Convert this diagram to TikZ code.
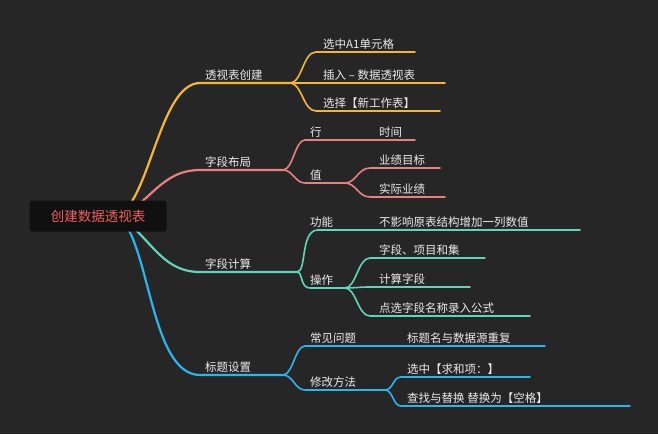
\documentclass[tikz,border=0pt]{standalone}
\usepackage{fontspec}
\newfontfamily\cjk{Noto Sans CJK SC}
\definecolor{bg}{HTML}{262626}
\definecolor{rootbg}{HTML}{101010}
\definecolor{cO}{HTML}{F5B731}
\definecolor{cP}{HTML}{E88080}
\definecolor{cT}{HTML}{5ED6B9}
\definecolor{cB}{HTML}{2BB5F0}
\definecolor{rootred}{HTML}{F06060}
\tikzset{lbl/.style={anchor=south west,inner sep=1pt,text=white!92!black,font=\cjk\fontsize{11.5}{13}\selectfont},
 br/.style={line width=2.2pt,line cap=round},
 lf/.style={line width=1.6pt,line cap=round}}
\begin{document}
\begin{tikzpicture}[x=1pt,y=-1pt]
\fill[bg] (0,0) rectangle (658,434);
\useasboundingbox (0,0) rectangle (658,434);
\coordinate (o) at (118,216);
% orange
\draw[br,cO] (o) .. controls (150,200) and (160,83) .. (200,83) -- (290,83);
\node[lbl] (b1) at (204,82) {透视表创建};
\draw[lf,cO] (290,83) .. controls (302,83) and (303,52) .. (316,52) -- (415,52);
\node[lbl] (l11) at (322,51) {选中A1单元格};
\draw[lf,cO] (290,83) -- (445,83);
\node[lbl] (l12) at (322,82) {插入 – 数据透视表};
\draw[lf,cO] (290,83) .. controls (302,83) and (303,111) .. (316,111) -- (440,111);
\node[lbl] (l13) at (322,110) {选择【新工作表】};
% pink
\draw[br,cP] (o) .. controls (150,205) and (160,170) .. (200,170) -- (283,170);
\node[lbl] (b2) at (204,169) {字段布局};
\draw[lf,cP] (283,170) .. controls (293,170) and (295,140) .. (305,140) -- (415,140);
\node[lbl] (l21) at (309,139) {行};
\node[lbl] (l21a) at (378,139) {时间};
\draw[lf,cP] (283,170) .. controls (293,170) and (295,183) .. (305,183) -- (345,183);
\node[lbl] (l22) at (309,182) {值};
\draw[lf,cP] (345,183) .. controls (356,183) and (358,168) .. (370,168) -- (440,168);
\node[lbl] (l23) at (378,167) {业绩目标};
\draw[lf,cP] (345,183) .. controls (356,183) and (358,197) .. (370,197) -- (445,197);
\node[lbl] (l24) at (378,196) {实际业绩};
% teal
\draw[br,cT] (o) .. controls (150,235) and (160,272) .. (200,272) -- (297,272);
\node[lbl] (b3) at (204,271) {字段计算};
\draw[lf,cT] (297,272) .. controls (307,272) and (300,230) .. (318,230) -- (580,230);
\node[lbl] (l31) at (309,229) {功能};
\node[lbl] (l31a) at (378,229) {不影响原表结构增加一列数值};
\draw[lf,cT] (297,272) .. controls (303,272) and (300,288) .. (310,288) -- (345,288);
\node[lbl] (l32) at (309,287) {操作};
\draw[lf,cT] (345,288) .. controls (356,288) and (358,258) .. (370,258) -- (485,258);
\node[lbl] (l33) at (378,257) {字段、项目和集};
\draw[lf,cT] (345,288) .. controls (356,288) and (358,287) .. (370,287) -- (470,287);
\node[lbl] (l34) at (378,286) {计算字段};
\draw[lf,cT] (345,288) .. controls (356,288) and (358,316) .. (370,316) -- (530,316);
\node[lbl] (l35) at (378,315) {点选字段名称录入公式};
% blue
\draw[br,cB] (o) .. controls (150,240) and (150,375) .. (200,375) -- (283,375);
\node[lbl] (b4) at (204,374) {标题设置};
\draw[lf,cB] (283,375) .. controls (293,375) and (295,346) .. (305,346) -- (545,346);
\node[lbl] (l41) at (309,345) {常见问题};
\node[lbl] (l41a) at (406,345) {标题名与数据源重复};
\draw[lf,cB] (283,375) .. controls (293,375) and (295,390) .. (305,390) -- (385,390);
\node[lbl] (l42) at (309,389) {修改方法};
\draw[lf,cB] (385,390) .. controls (393,390) and (393,377) .. (401,377) -- (530,377);
\node[lbl] (l43) at (406,376) {选中【求和项：】};
\draw[lf,cB] (385,390) .. controls (393,390) and (393,406) .. (401,406) -- (630,406);
\node[lbl] (l44) at (406,405) {查找与替换 替换为【空格】};
% root
\node[fill=rootbg,rounded corners=3pt,minimum width=137pt,minimum height=31pt,text=rootred,font=\cjk\fontsize{13.5}{15}\selectfont] (root) at (98,216) {创建数据透视表};
\end{tikzpicture}
\end{document}
